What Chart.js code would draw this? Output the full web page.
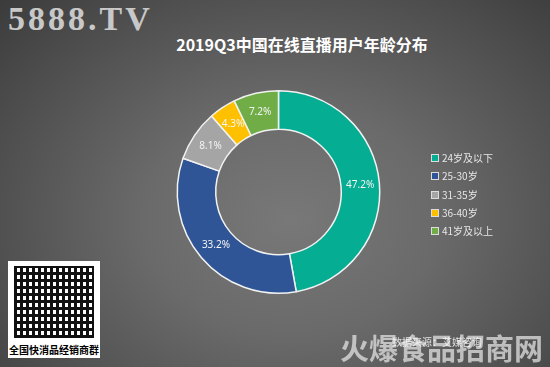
<!DOCTYPE html>
<html>
<head>
<meta charset="utf-8">
<script src="https://cdn.jsdelivr.net/npm/chart.js@4.4.0/dist/chart.umd.min.js"></script>
<style>
    html, body { margin: 0; padding: 0; }
    body {
        width: 550px; height: 367px; overflow: hidden; position: relative;
        background: radial-gradient(ellipse 420px 330px at 290px 220px, #787878 0%, #6a6a6a 35%, #4c4c4c 75%, #383838 100%);
        font-family: "Noto Sans CJK SC", "Noto Sans", sans-serif;
    }
    #wrap { position: absolute; left: 0; top: 0; width: 550px; height: 367px; }
    #title {
        position: absolute; left: 0; width: 604px; top: 33px; text-align: center;
        color: #fff; font-size: 16px; font-weight: bold; line-height: 22px;
    }
    #legend { position: absolute; left: 431px; top: 150px; margin: 0; padding: 0; list-style: none; }
    #legend li { height: 18.3px; line-height: 16px; font-size: 10px; color: #e6e6e6; white-space: nowrap; }
    #legend span.box {
        display: inline-block; width: 6px; height: 6px; margin-right: 3px;
        border: 1px solid #ddd; vertical-align: -0px;
    }
    #site {
        position: absolute; left: 8px; top: 0px; font-family: "Liberation Serif", serif;
        font-weight: bold; font-size: 34px; letter-spacing: 3px; color: #c8c8c8;
    }
    #qr {
        position: absolute; left: 8px; top: 261px; width: 92px; height: 97px; background: #fff;
        background-image: repeating-linear-gradient(90deg, #111 0 3px, transparent 3px 6px),
                          repeating-linear-gradient(0deg, #111 0 3px, transparent 3px 7px);
        background-size: 80px 72px; background-position: 6px 5px; background-repeat: no-repeat;
    }
    #qr div {
        position: absolute; left: 0; bottom: 0; width: 92px; height: 16px; background: #fff;
        font-size: 10px; font-weight: bold; color: #000; text-align: center; line-height: 16px;
    }
    #brand {
        position: absolute; left: 340px; top: 326px; font-family: "Noto Sans CJK SC", serif;
        font-weight: bold; font-size: 29px; color: rgba(225,225,225,0.75); letter-spacing: 0px;
    }
    #source { position: absolute; left: 392px; top: 334px; font-size: 10px; color: rgba(255,255,255,0.8); }
</style>
</head>
<body>
<div id="site">5888.TV</div>
<div id="title">2019Q3中国在线直播用户年龄分布</div>
<div id="wrap"><canvas id="chart" width="550" height="367"></canvas></div>
<ul id="legend"></ul>
<div id="qr"><div>全国快消品经销商群</div></div>
<div id="brand">火爆食品招商网</div>
<div id="source">数据来源：艾媒咨询</div>
<script>
// Age distribution of live-streaming users, 2019Q3
const categories = ['24岁及以下', '25-30岁', '31-35岁', '36-40岁', '41岁及以上'];
const shares = [47.2, 33.2, 8.1, 4.3, 7.2];
const sliceColors = ['#05ad92', '#2f5597', '#a5a5a5', '#ffc000', '#70ad47'];

// Build legend
document.getElementById('legend').innerHTML = categories.map((name, i) =>
    `<li><span class="box" style="background:${sliceColors[i]}"></span>${name}</li>`
).join('');

// Percentage labels in the middle of each slice
const sliceLabels = {
    id: 'sliceLabels',
    afterDatasetsDraw(chart) {
        const ctx = chart.ctx;
        const meta = chart.getDatasetMeta(0);
        ctx.save();
        ctx.font = '10px "Noto Sans", sans-serif';
        ctx.fillStyle = '#f4f4f4';
        ctx.textAlign = 'center';
        ctx.textBaseline = 'middle';
        meta.data.forEach((arc, i) => {
            const pos = arc.tooltipPosition();
            ctx.fillText(shares[i].toFixed(1) + '%', pos.x, pos.y);
        });
        ctx.restore();
    }
};

new Chart(document.getElementById('chart'), {
    type: 'doughnut',
    data: {
        labels: categories,
        datasets: [{
            data: shares,
            backgroundColor: sliceColors,
            borderColor: '#f2f2f2',
            borderWidth: 1.5
        }]
    },
    options: {
        responsive: false,
        animation: false,
        cutout: '62%',
        layout: { padding: { left: 176, right: 169, top: 90, bottom: 73 } },
        plugins: {
            legend: { display: false },
            tooltip: { enabled: false },
            title: { display: false }
        }
    },
    plugins: [sliceLabels]
});
</script>
</body>
</html>
